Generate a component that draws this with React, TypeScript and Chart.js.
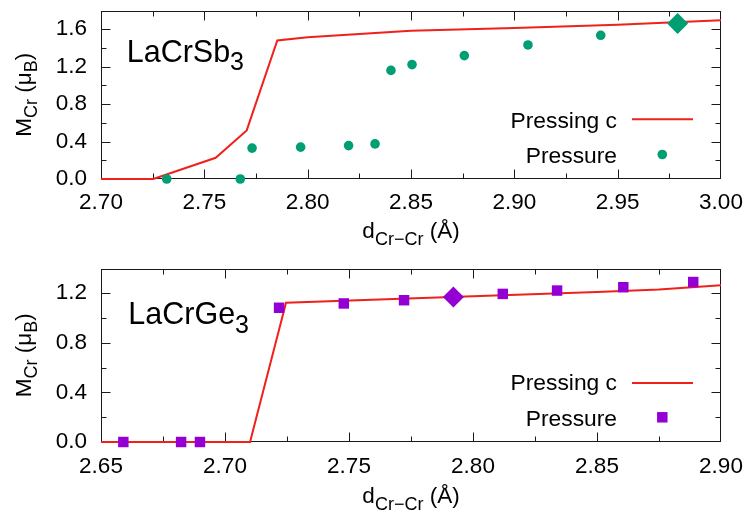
import React, { useEffect, useRef } from 'react';
import { Chart, registerables } from 'chart.js';

Chart.register(...registerables);

const FONT = '"Liberation Sans", Arial, Helvetica, sans-serif';

// ---------- LaCrSb3 (top panel) ----------
const sbLineD = [2.70, 2.7253, 2.7555, 2.7705, 2.7853, 2.80, 2.85, 2.90, 2.95, 3.00];
const sbLineM = [0, 0, 0.227, 0.519, 1.48, 1.513, 1.583, 1.614, 1.648, 1.696];
const sbPressD = [2.7318, 2.7674, 2.7731, 2.7966, 2.8198, 2.8326, 2.8403, 2.8505, 2.8758, 2.9066, 2.9418];
const sbPressM = [0, 0, 0.33, 0.34, 0.357, 0.375, 1.16, 1.222, 1.318, 1.432, 1.535];
const sbRefD = [2.979];
const sbRefM = [1.662];
const sbXTicks = [2.70, 2.75, 2.80, 2.85, 2.90, 2.95, 3.00];
const sbXMinor = [2.725, 2.775, 2.825, 2.875, 2.925, 2.975];
const sbYTicks = [0, 0.4, 0.8, 1.2, 1.6];
const sbYMinor = [0.2, 0.6, 1.0, 1.4];

// ---------- LaCrGe3 (bottom panel) ----------
const geLineD = [2.65, 2.7101, 2.7246, 2.80, 2.85, 2.875, 2.90];
const geLineM = [0, 0, 1.123, 1.176, 1.211, 1.23, 1.265];
const gePressD = [2.659, 2.6823, 2.6899, 2.7218, 2.7479, 2.7722, 2.812, 2.8339, 2.8606, 2.8888];
const gePressM = [0, 0, 0, 1.083, 1.118, 1.144, 1.195, 1.222, 1.249, 1.291];
const geRefD = [2.7921];
const geRefM = [1.171];
const geXTicks = [2.65, 2.70, 2.75, 2.80, 2.85, 2.90];
const geXMinor = [2.675, 2.725, 2.775, 2.825, 2.875];
const geYTicks = [0, 0.4, 0.8, 1.2];
const geYMinor = [0.2, 0.6, 1.0];

const RED = '#f0201a';
const GREEN = '#009e73';
const PURPLE = '#9400d3';

type Part = [string, boolean];

function drawRich(ctx: CanvasRenderingContext2D, parts: Part[], x: number, y: number, align: string, mainSize: number, subSize: number, subDy: number) {
  const mf = `${mainSize}px ${FONT}`;
  const sf = `${subSize}px ${FONT}`;
  const widths = parts.map(([t, s]) => { ctx.font = s ? sf : mf; return ctx.measureText(t).width; });
  const total = widths.reduce((a, b) => a + b, 0);
  let cx = align === 'center' ? x - total / 2 : align === 'right' ? x - total : x;
  ctx.textAlign = 'left';
  ctx.textBaseline = 'alphabetic';
  parts.forEach(([t, s], i) => {
    ctx.font = s ? sf : mf;
    ctx.fillText(t, cx, s ? y + subDy : y);
    cx += widths[i];
  });
}

type Spec = {
  lineD: number[]; lineM: number[]; pressD: number[]; pressM: number[]; refD: number[]; refM: number[];
  xTicks: number[]; xMinor: number[]; yTicks: number[]; yMinor: number[];
  xMin: number; xMax: number; yMin: number; yMax: number;
  color: string; pointStyle: string; pointRadius: number;
  label: string;
  padTop: number; xHeight: number; xPad: number;
  xTitleY: number; labelX: number; labelY: number;
  legLineY: number; legText1Y: number; legMarkY: number; legText2Y: number;
};

const zeroPad = (sc: any) => {
  sc.paddingTop = 0;
  sc.paddingBottom = 0;
  sc.paddingLeft = 0;
  sc.paddingRight = 0;
};

function makeChart(canvas: HTMLCanvasElement, s: Spec) {
  const xy = (xs: number[], ys: number[]) => xs.map((x, i) => ({ x, y: ys[i] }));
  const overlay = {
    id: 'overlay',
    beforeDatasetsDraw(chart: any) {
      const ctx = chart.ctx as CanvasRenderingContext2D;
      const { left, right, top, bottom } = chart.chartArea;
      const xs = chart.scales.x;
      const ys = chart.scales.y;
      const L = Math.round(left) + 0.5, R = Math.round(right) - 0.5, T = Math.round(top) + 0.5, B = Math.round(bottom) - 0.5;
      ctx.save();
      ctx.strokeStyle = '#1a1a1a';
      ctx.lineWidth = 1;
      ctx.beginPath();
      const tick = (vals: number[], len: number) => {
        vals.forEach(v => {
          const px = Math.round(xs.getPixelForValue(v)) + 0.5;
          if (px > L + 1 && px < R - 1) {
            ctx.moveTo(px, B); ctx.lineTo(px, B - len);
            ctx.moveTo(px, T); ctx.lineTo(px, T + len);
          }
        });
      };
      const ytick = (vals: number[], len: number) => {
        vals.forEach(v => {
          const py = Math.round(ys.getPixelForValue(v)) + 0.5;
          if (py > T + 1 && py < B - 1) {
            ctx.moveTo(L, py); ctx.lineTo(L + len, py);
            ctx.moveTo(R, py); ctx.lineTo(R - len, py);
          }
        });
      };
      tick(s.xTicks, 9); tick(s.xMinor, 5);
      ytick(s.yTicks, 9); ytick(s.yMinor, 5);
      ctx.stroke();
      ctx.strokeRect(L, T, R - L, B - T);
      ctx.restore();
    },
    afterDatasetsDraw(chart: any) {
      const ctx = chart.ctx as CanvasRenderingContext2D;
      const { left, right, top, bottom } = chart.chartArea;
      ctx.save();
      ctx.fillStyle = '#000';
      drawRich(ctx, [['d', false], ['Cr\u2212Cr', true], [' (\u00c5)', false]], (left + right) / 2, s.xTitleY, 'center', 22.5, 18, 7);
      ctx.save();
      ctx.translate(31, (top + bottom) / 2);
      ctx.rotate(-Math.PI / 2);
      drawRich(ctx, [['M', false], ['Cr', true], [' (\u03bc', false], ['B', true], [')', false]], 0, 0, 'center', 22.5, 18, 6);
      ctx.restore();
      drawRich(ctx, [[s.label, false], ['3', true]], s.labelX, s.labelY, 'left', 30.5, 25, 8.5);
      drawRich(ctx, [['Pressing c', false]], 617, s.legText1Y, 'right', 22.8, 18, 0);
      drawRich(ctx, [['Pressure', false]], 617, s.legText2Y, 'right', 22.8, 18, 0);
      ctx.strokeStyle = RED;
      ctx.lineWidth = 2;
      ctx.beginPath();
      ctx.moveTo(632, s.legLineY);
      ctx.lineTo(693, s.legLineY);
      ctx.stroke();
      ctx.fillStyle = s.color;
      if (s.pointStyle === 'circle') {
        ctx.beginPath();
        ctx.arc(662.3, s.legMarkY, s.pointRadius, 0, Math.PI * 2);
        ctx.fill();
      } else {
        const h = s.pointRadius * Math.SQRT1_2;
        ctx.fillRect(662.3 - h, s.legMarkY - h, 2 * h, 2 * h);
      }
      ctx.restore();
    },
  };

  return new Chart(canvas, {
    type: 'scatter',
    data: {
      datasets: [
        {
          label: 'reference',
          data: xy(s.refD, s.refM),
          pointStyle: 'rectRot',
          pointRadius: 10.5,
          pointBackgroundColor: s.color,
          pointBorderColor: s.color,
          pointBorderWidth: 0,
          showLine: false,
          order: 0,
          clip: false,
        } as any,
        {
          label: 'Pressure',
          data: xy(s.pressD, s.pressM),
          pointStyle: s.pointStyle,
          pointRadius: s.pointRadius,
          pointBackgroundColor: s.color,
          pointBorderColor: s.color,
          pointBorderWidth: 0,
          showLine: false,
          order: 1,
          clip: false,
        } as any,
        {
          label: 'Pressing c',
          data: xy(s.lineD, s.lineM),
          showLine: true,
          borderColor: RED,
          borderWidth: 2,
          pointRadius: 0,
          tension: 0,
          order: 2,
          clip: false,
        } as any,
      ],
    },
    options: {
      animation: false,
      responsive: false,
      events: [],
      layout: { padding: { left: 0, right: 23, top: s.padTop, bottom: 0 } },
      plugins: { legend: { display: false }, tooltip: { enabled: false } },
      scales: {
        x: {
          type: 'linear',
          min: s.xMin,
          max: s.xMax,
          afterBuildTicks: (sc: any) => { sc.ticks = s.xTicks.map(v => ({ value: v })); },
          afterFit: (sc: any) => { sc.height = s.xHeight; zeroPad(sc); },
          grid: { display: false, drawTicks: false },
          border: { display: false },
          ticks: {
            callback: (v: any) => Number(v).toFixed(2),
            font: { family: FONT, size: 22.5 },
            color: '#000',
            padding: s.xPad,
            maxRotation: 0,
            autoSkip: false,
          },
        },
        y: {
          type: 'linear',
          min: s.yMin,
          max: s.yMax,
          afterBuildTicks: (sc: any) => { sc.ticks = s.yTicks.map(v => ({ value: v })); },
          afterFit: (sc: any) => { sc.width = 101; zeroPad(sc); },
          grid: { display: false, drawTicks: false },
          border: { display: false },
          ticks: {
            callback: (v: any) => Number(v).toFixed(1),
            font: { family: FONT, size: 22.5 },
            color: '#000',
            padding: 14,
            autoSkip: false,
          },
        },
      },
    } as any,
    plugins: [overlay],
  });
}

const topSpec: Spec = {
  lineD: sbLineD, lineM: sbLineM, pressD: sbPressD, pressM: sbPressM, refD: sbRefD, refM: sbRefM,
  xTicks: sbXTicks, xMinor: sbXMinor, yTicks: sbYTicks, yMinor: sbYMinor,
  xMin: 2.70, xMax: 3.00, yMin: 0, yMax: 1.8,
  color: GREEN, pointStyle: 'circle', pointRadius: 4.8,
  label: 'LaCrSb',
  padTop: 4, xHeight: 79, xPad: 10,
  xTitleY: 238, labelX: 126.7, labelY: 61.7,
  legLineY: 119.3, legText1Y: 127.5, legMarkY: 154.5, legText2Y: 162.7,
};

const bottomSpec: Spec = {
  lineD: geLineD, lineM: geLineM, pressD: gePressD, pressM: gePressM, refD: geRefD, refM: geRefM,
  xTicks: geXTicks, xMinor: geXMinor, yTicks: geYTicks, yMinor: geYMinor,
  xMin: 2.65, xMax: 2.90, yMin: 0, yMax: 1.4,
  color: PURPLE, pointStyle: 'rect', pointRadius: 7.4,
  label: 'LaCrGe',
  padTop: 9, xHeight: 74, xPad: 11,
  xTitleY: 245.3, labelX: 128.3, labelY: 66.3,
  legLineY: 125, legText1Y: 132, legMarkY: 159.3, legText2Y: 168,
};

function Panel({ spec, top }: { spec: Spec; top: number }) {
  const ref = useRef<HTMLCanvasElement | null>(null);
  useEffect(() => {
    if (!ref.current) return;
    const chart = makeChart(ref.current, spec);
    return () => chart.destroy();
  }, [spec]);
  return (
    <canvas
      ref={ref}
      width={744}
      height={258}
      style={{ position: 'absolute', left: 0, top, width: 744, height: 258, display: 'block' }}
    />
  );
}

export default function App() {
  return (
    <div style={{ position: 'absolute', left: 0, top: 0, width: 744, height: 516, background: '#fff' }}>
      <Panel spec={topSpec} top={0} />
      <Panel spec={bottomSpec} top={258} />
    </div>
  );
}
